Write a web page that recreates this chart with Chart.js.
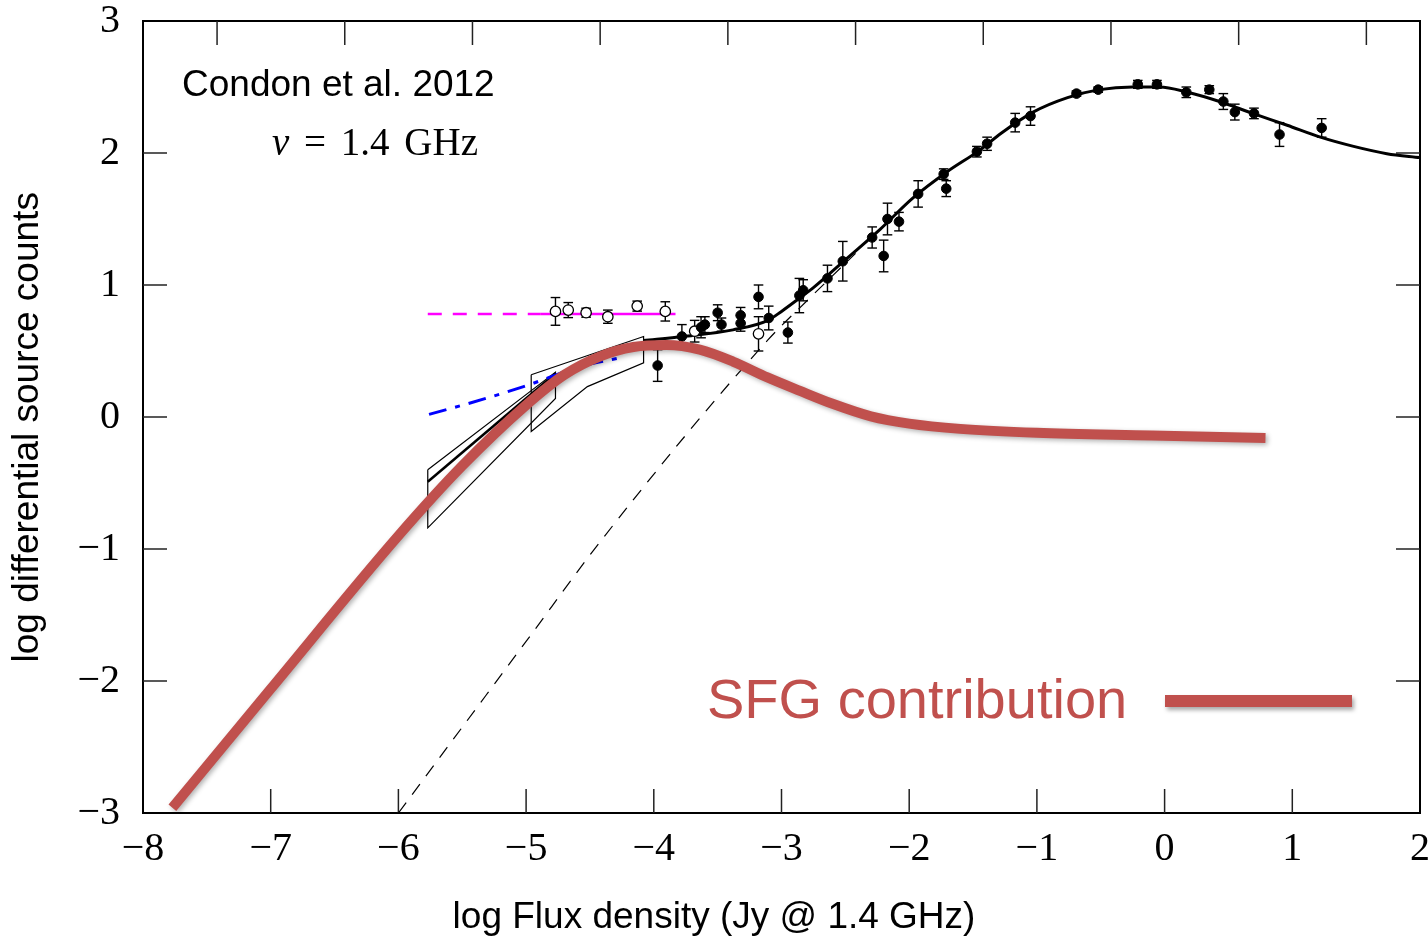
<!DOCTYPE html>
<html><head><meta charset="utf-8">
<script src="https://cdn.jsdelivr.net/npm/chart.js@4.4.0/dist/chart.umd.min.js"></script>
<style>
html,body{margin:0;padding:0;background:#fff;}
#wrap{position:relative;width:1428px;height:940px;overflow:hidden;background:#fff;}
canvas{display:block;}
.ann{position:absolute;white-space:nowrap;line-height:1;}
</style></head>
<body>
<div id="wrap">
<canvas id="c" width="1428" height="940"></canvas>
<div class="ann" style="left:182px;top:64.7px;font-size:37px;font-family:'Liberation Sans',Arial,sans-serif;color:#000;">Condon et al. 2012</div>
<div class="ann" style="left:272px;top:122.3px;font-size:39px;font-family:'Liberation Serif','Times New Roman',serif;color:#000;word-spacing:5px;"><i>ν</i> = 1.4 GHz</div>
<div class="ann" style="left:707px;top:670.6px;font-size:56px;font-family:'Liberation Sans',Arial,sans-serif;color:#c0504d;">SFG contribution</div>
<div style="position:absolute;left:1165px;top:695px;width:187px;height:12px;background:#c0504d;box-shadow:2px 3px 4px rgba(0,0,0,0.35);"></div>
</div>
<script>
// ---- axis ticks ----
const xTicks = [-8,-7,-6,-5,-4,-3,-2,-1,0,1,2];
const yTicks = [-3,-2,-1,0,1,2,3];
const topTicks = [-7.42,-6.42,-5.42,-4.42,-3.42,-2.42,-1.42,-0.42,0.58,1.58];

// ---- SFG contribution (thick red) ----
const sfgX = [-7.77,-7.0,-6.0,-5.5,-5.0,-4.7,-4.42,-4.16,-3.9,-3.64,-3.38,-3.11,-2.86,-2.6,-2.3,-2.0,-1.6,-1.0,-0.1,0.79];
const sfgY = [-2.96,-2.06,-0.90,-0.37,0.09,0.32,0.46,0.53,0.545,0.51,0.42,0.30,0.20,0.10,0.005,-0.05,-0.09,-0.12,-0.14,-0.16];

// ---- total model (black solid) ----
const modelX = [-4.08,-3.77,-3.38,-3.11,-3.0,-2.86,-2.75,-2.49,-2.23,-1.97,-1.70,-1.45,-1.28,-1.03,-0.76,-0.51,-0.25,-0.04,0.18,0.43,0.69,0.96,1.22,1.48,1.74,2.0];
const modelY = [0.58,0.61,0.66,0.73,0.80,0.90,0.98,1.20,1.42,1.66,1.86,2.02,2.15,2.31,2.42,2.48,2.50,2.50,2.46,2.39,2.30,2.21,2.12,2.05,1.995,1.965];

// ---- AGN (black dashed) ----
const agnX = [-6.0,-5.0,-4.4,-3.11,-2.78,-2.42];
const agnY = [-3.0,-1.70,-0.92,0.58,0.90,1.24];

// ---- magenta P(D) counts ----
const pdDashX = [-5.77,-4.89];
const pdDashY = [0.78,0.78];
const pdSolidX = [-4.89,-3.83];
const pdSolidY = [0.78,0.78];

// ---- blue dash-dot ----
const blueX = [-5.76,-5.46,-5.02,-4.58,-4.26];
const blueY = [0.02,0.10,0.23,0.38,0.45];

// ---- uncertainty boxes ----
const boxLX = [-5.77,-4.77,-4.77,-5.77,-5.77];
const boxLY = [-0.40,0.34,0.14,-0.84,-0.40];
const boxRX = [-4.96,-4.08,-4.08,-4.52,-4.96,-4.96];
const boxRY = [0.32,0.61,0.41,0.23,-0.11,0.32];
const boxLineX = [-5.77,-4.77];
const boxLineY = [-0.49,0.33];

// ---- filled points with errors ----
const filledX = [-3.97,-3.78,-3.63,-3.60,-3.50,-3.47,-3.32,-3.32,-3.18,-3.10,-2.95,-2.86,-2.83,-2.64,-2.52,-2.29,-2.20,-2.17,-2.08,-1.93,-1.73,-1.71,-1.47,-1.39,-1.17,-1.05,-0.69,-0.52,-0.21,-0.06,0.17,0.35,0.46,0.55,0.70,0.90,1.23];
const filledY = [0.39,0.61,0.68,0.70,0.79,0.70,0.77,0.71,0.91,0.75,0.64,0.92,0.96,1.05,1.18,1.36,1.22,1.50,1.48,1.69,1.84,1.73,2.01,2.07,2.23,2.28,2.45,2.48,2.52,2.52,2.46,2.48,2.39,2.31,2.30,2.14,2.19];
const filledErr = [0.12,0.09,0.08,0.06,0.06,0.05,0.06,0.06,0.09,0.09,0.08,0.13,0.08,0.10,0.15,0.08,0.12,0.12,0.07,0.10,0.04,0.06,0.04,0.05,0.07,0.07,0.02,0.02,0.03,0.03,0.04,0.03,0.06,0.06,0.04,0.09,0.07];

// ---- open points with errors ----
const openX = [-4.77,-4.67,-4.53,-4.36,-4.13,-3.91,-3.68,-3.18];
const openY = [0.80,0.81,0.79,0.76,0.84,0.80,0.65,0.63];
const openErr = [0.105,0.057,0.034,0.05,0.038,0.073,0.082,0.13];

const toXY = (xs, ys) => xs.map((x, i) => ({x: x, y: ys[i]}));
const errData = (xs, ys, es) => xs.flatMap((x, i) => [{x: x, y: ys[i] - es[i]}, {x: x, y: ys[i] + es[i]}, {x: x, y: null}]);
const fmt = v => v < 0 ? '\u2212' + Math.abs(v) : String(v);

const serif = "'Liberation Serif','Times New Roman',serif";
const sans = "'Liberation Sans',Arial,sans-serif";

const lineDs = (data, color, width, dash, extra) => Object.assign({
  data: data, showLine: true, borderColor: color, borderWidth: width, borderDash: dash || [],
  pointRadius: 0, pointHoverRadius: 0, fill: false, spanGaps: false
}, extra || {});

const inwardTicks = {
  id: 'inwardTicks',
  beforeDatasetsDraw(chart) {
    const {ctx, chartArea: a, scales} = chart;
    const L = 24;
    ctx.save();
    ctx.strokeStyle = '#222';
    ctx.lineWidth = 1.5;
    const seg = (x1, y1, x2, y2) => { ctx.beginPath(); ctx.moveTo(x1, y1); ctx.lineTo(x2, y2); ctx.stroke(); };
    scales.x.ticks.forEach(t => { if (t.value <= -8 || t.value >= 2) return; const p = scales.x.getPixelForValue(t.value); seg(p, a.bottom, p, a.bottom - L); });
    scales.x2.ticks.forEach(t => { const p = scales.x2.getPixelForValue(t.value); seg(p, a.top, p, a.top + L); });
    scales.y.ticks.forEach(t => { if (t.value <= -3 || t.value >= 3) return; const p = scales.y.getPixelForValue(t.value); seg(a.left, p, a.left + L, p); });
    scales.y2.ticks.forEach(t => { if (t.value <= -3 || t.value >= 3) return; const p = scales.y2.getPixelForValue(t.value); seg(a.right, p, a.right - L, p); });
    ctx.restore();
  }
};

const shadow = {
  id: 'shadow',
  beforeDatasetDraw(chart, args) {
    if (args.index === 0) {
      const ctx = chart.ctx;
      ctx.save();
      ctx.shadowColor = 'rgba(0,0,0,0.3)';
      ctx.shadowBlur = 5;
      ctx.shadowOffsetX = 2;
      ctx.shadowOffsetY = 2;
    }
  },
  afterDatasetDraw(chart, args) {
    if (args.index === 0) chart.ctx.restore();
  }
};

const fixSize = (w, h) => (s) => {
  if (w !== null) s.width = w;
  if (h !== null) s.height = h;
  s.paddingLeft = 0; s.paddingRight = 0; s.paddingTop = 0; s.paddingBottom = 0;
};

new Chart(document.getElementById('c'), {
  type: 'scatter',
  data: {
    datasets: [
      lineDs(toXY(sfgX, sfgY), '#c0504d', 10, [], {cubicInterpolationMode: 'monotone', borderCapStyle: 'butt', borderJoinStyle: 'round'}),
      {data: toXY(filledX, filledY), showLine: false, pointRadius: 4.8, pointHoverRadius: 4.8, pointBackgroundColor: '#000', pointBorderColor: '#000', pointBorderWidth: 1},
      {data: toXY(openX, openY), showLine: false, pointRadius: 5.2, pointHoverRadius: 5.2, pointBackgroundColor: '#fff', pointBorderColor: '#000', pointBorderWidth: 1.3},
      lineDs(errData(filledX, filledY, filledErr), '#000', 1.4, [], {pointStyle: 'line', pointRadius: 4.8, pointHoverRadius: 4.8, pointBorderColor: '#000', pointBorderWidth: 1.4}),
      lineDs(errData(openX, openY, openErr), '#000', 1.4, [], {pointStyle: 'line', pointRadius: 4.8, pointHoverRadius: 4.8, pointBorderColor: '#000', pointBorderWidth: 1.4}),
      lineDs(toXY(modelX, modelY), '#000', 3, [], {cubicInterpolationMode: 'monotone'}),
      lineDs(toXY(agnX, agnY), '#000', 1.2, [13, 10], {cubicInterpolationMode: 'monotone'}),
      lineDs(toXY(pdDashX, pdDashY), '#ff00ff', 2.5, [14, 11]),
      lineDs(toXY(pdSolidX, pdSolidY), '#ff00ff', 2.5, []),
      lineDs(toXY(blueX, blueY), '#0000ff', 3, [18, 9, 5, 9], {cubicInterpolationMode: 'monotone'}),
      lineDs(toXY(boxLX, boxLY), '#000', 1.2, []),
      lineDs(toXY(boxRX, boxRY), '#000', 1.2, []),
      lineDs(toXY(boxLineX, boxLineY), '#000', 2.5, [])
    ]
  },
  options: {
    responsive: false,
    animation: false,
    events: [],
    layout: {padding: 0},
    plugins: {
      legend: {display: false},
      tooltip: {enabled: false},
      title: {
        display: true, position: 'bottom', text: 'log Flux density (Jy @ 1.4 GHz)',
        color: '#000', font: {family: sans, size: 37, weight: 'normal', lineHeight: 1.2},
        padding: {top: 0, bottom: 0}
      }
    },
    scales: {
      x: {
        type: 'linear', position: 'bottom', min: -8, max: 2,
        afterBuildTicks: s => { s.ticks = xTicks.map(v => ({value: v})); },
        afterFit: fixSize(null, 940 - 44.4 - 813),
        grid: {display: false, drawTicks: false},
        border: {display: true, color: '#000', width: 2},
        ticks: {autoSkip: false, maxRotation: 0, padding: 12, color: '#000', font: {family: serif, size: 40}, callback: v => fmt(v)}
      },
      x2: {
        type: 'linear', position: 'top', min: -8, max: 2,
        afterBuildTicks: s => { s.ticks = topTicks.map(v => ({value: v})); },
        afterFit: fixSize(null, 21),
        grid: {display: false, drawTicks: false},
        border: {display: true, color: '#000', width: 2},
        ticks: {display: false}
      },
      y: {
        type: 'linear', position: 'left', min: -3, max: 3,
        afterBuildTicks: s => { s.ticks = yTicks.map(v => ({value: v})); },
        afterFit: fixSize(143, null),
        grid: {display: false, drawTicks: false},
        border: {display: true, color: '#000', width: 2},
        ticks: {padding: 23, color: '#000', font: {family: serif, size: 40}, callback: v => fmt(v)},
        title: {display: true, text: 'log differential source counts  ', color: '#000', font: {family: sans, size: 37, lineHeight: 1.2}, padding: {top: 6, bottom: 0}}
      },
      y2: {
        type: 'linear', position: 'right', min: -3, max: 3,
        afterBuildTicks: s => { s.ticks = yTicks.map(v => ({value: v})); },
        afterFit: fixSize(8, null),
        grid: {display: false, drawTicks: false},
        border: {display: true, color: '#000', width: 2},
        ticks: {display: false}
      }
    }
  },
  plugins: [inwardTicks, shadow]
});
</script>
</body></html>
